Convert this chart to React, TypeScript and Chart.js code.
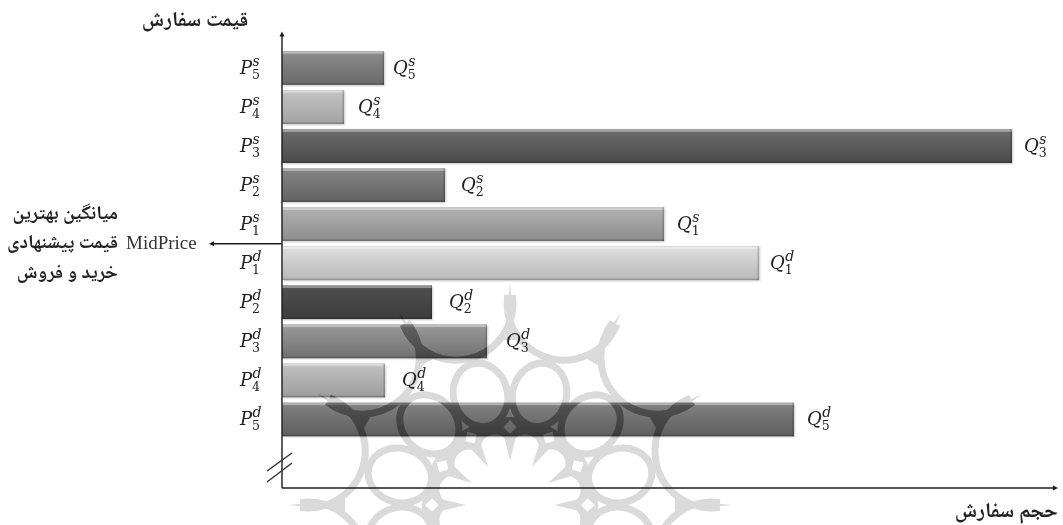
import React, { useEffect, useRef } from "react";
import { Chart, registerables } from "chart.js";

Chart.register(...registerables);

// Order volumes (top to bottom)
const sides = ["s", "s", "s", "s", "s", "d", "d", "d", "d", "d"];
const levels = [5, 4, 3, 2, 1, 1, 2, 3, 4, 5];
const categories = ["P5s", "P4s", "P3s", "P2s", "P1s", "P1d", "P2d", "P3d", "P4d", "P5d"];
const volumes = [102, 62, 730, 163, 382, 477, 150, 205, 103, 512];
const barTops = ["#8e8e8e", "#c4c4c4", "#6c6c6c", "#868686", "#b2b2b2", "#dfdfdf", "#505050", "#9a9a9a", "#c2c2c2", "#828282"];
const barBottoms = ["#686868", "#a2a2a2", "#4a4a4a", "#626262", "#8c8c8c", "#b8b8b8", "#3c3c3c", "#707070", "#9c9c9c", "#5e5e5e"];

const yAxisTitle = "قیمت سفارش";
const xAxisTitle = "حجم سفارش";
const midLines = ["میانگین بهترین", "قیمت پیشنهادی", "خرید و فروش"];
const midPrice = "MidPrice";

const PERSIAN = "'Noto Naskh Arabic','Noto Sans Arabic','DejaVu Sans','Noto Sans',sans-serif";
const LATIN = "'Liberation Serif',serif";
const MATH = "'DejaVu Serif','Liberation Serif',serif";
const INK = "#222";
const qGaps = [9, 14, 12, 16, 13, 11, 17, 19, 17, 13];

function symbol(ctx: CanvasRenderingContext2D, base: string, sup: string, sub: string, x: number, y: number) {
  ctx.fillStyle = INK;
  ctx.textAlign = "left";
  ctx.textBaseline = "alphabetic";
  ctx.font = `italic 18px ${MATH}`;
  ctx.fillText(base, x, y + 6);
  const w = ctx.measureText(base).width;
  ctx.font = `italic 14px ${MATH}`;
  ctx.fillText(sup, x + w + 0.5, y - 2);
  ctx.font = `12.5px ${MATH}`;
  ctx.fillText(sub, x + w, y + 11);
}

function arrow(ctx: CanvasRenderingContext2D, x0: number, y0: number, x1: number, y1: number) {
  ctx.strokeStyle = "#1c1c1c";
  ctx.fillStyle = "#1c1c1c";
  ctx.lineWidth = 1.4;
  ctx.beginPath();
  ctx.moveTo(x0, y0);
  ctx.lineTo(x1, y1);
  ctx.stroke();
  const a = Math.atan2(y1 - y0, x1 - x0);
  ctx.beginPath();
  ctx.moveTo(x1 + Math.cos(a) * 2, y1 + Math.sin(a) * 2);
  ctx.lineTo(x1 - Math.cos(a) * 3 - Math.sin(a) * 2.5, y1 - Math.sin(a) * 3 + Math.cos(a) * 2.5);
  ctx.lineTo(x1 - Math.cos(a) * 3 + Math.sin(a) * 2.5, y1 - Math.sin(a) * 3 - Math.cos(a) * 2.5);
  ctx.closePath();
  ctx.fill();
}

function watermarkLayer(w: number, h: number) {
  const cx = 510;
  const cy = 505;
  const layer = document.createElement("canvas");
  layer.width = w;
  layer.height = h;
  const c = layer.getContext("2d") as CanvasRenderingContext2D;
  const ink = "#dadada";
  const polar = (angle: number, r: number): [number, number] => [cx + Math.cos(angle) * r, cy + Math.sin(angle) * r];
  const rad = (deg: number) => ((deg - 90) * Math.PI) / 180;
  const cut = (paint: () => void) => {
    c.globalCompositeOperation = "destination-out";
    c.fillStyle = "#000";
    paint();
    c.globalCompositeOperation = "source-over";
  };

  // central disc
  c.fillStyle = ink;
  c.beginPath();
  c.arc(cx, cy, 88, 0, Math.PI * 2);
  c.fill();

  // white scalloped flower and small diamonds cut out of the disc
  cut(() => {
    c.beginPath();
    c.arc(cx, cy, 60, 0, Math.PI * 2);
    c.fill();
    for (let k = 0; k < 12; k++) {
      const [lx, ly] = polar(rad(k * 30 + 15), 58);
      c.beginPath();
      c.arc(lx, ly, 14.5, 0, Math.PI * 2);
      c.fill();
      const a = rad(k * 30);
      c.beginPath();
      const p1 = polar(a, 71);
      const p2 = polar(a + 0.085, 78);
      const p3 = polar(a, 85);
      const p4 = polar(a - 0.085, 78);
      c.moveTo(p1[0], p1[1]);
      c.lineTo(p2[0], p2[1]);
      c.lineTo(p3[0], p3[1]);
      c.lineTo(p4[0], p4[1]);
      c.closePath();
      c.fill();
    }
  });

  c.fillStyle = ink;
  c.strokeStyle = ink;
  for (let k = 0; k < 12; k++) {
    // grey cusp pointing at the centre between two petals
    const cusp = rad(k * 30);
    const q0 = polar(cusp, 44);
    const q1 = polar(cusp - 0.09, 72);
    const q2 = polar(cusp + 0.09, 72);
    c.beginPath();
    c.moveTo(q0[0], q0[1]);
    c.lineTo(q1[0], q1[1]);
    c.lineTo(q2[0], q2[1]);
    c.closePath();
    c.fill();

    const mid = rad(k * 30 + 15);
    const [rx, ry] = polar(mid, 114);

    // ring, white inside
    c.save();
    c.translate(rx, ry);
    c.rotate(mid);
    cut(() => {
      c.beginPath();
      c.ellipse(0, 0, 32, 27, 0, 0, Math.PI * 2);
      c.fill();
    });
    c.lineWidth = 7;
    c.beginPath();
    c.ellipse(0, 0, 32, 27, 0, 0, Math.PI * 2);
    c.stroke();
    c.restore();

    // concave arc running between two spikes
    const [ax, ay] = polar(mid, 209);
    c.lineWidth = 7;
    c.beginPath();
    c.arc(ax, ay, 57, mid + Math.PI - 1.45, mid + Math.PI + 1.45);
    c.stroke();

    // spike tip
    const tip = rad(k * 30);
    const t0 = polar(tip, 222);
    const t1 = polar(tip - 0.035, 165);
    const t2 = polar(tip + 0.035, 165);
    c.beginPath();
    c.moveTo(t0[0], t0[1]);
    c.lineTo(t1[0], t1[1]);
    c.lineTo(t2[0], t2[1]);
    c.closePath();
    c.fill();
  }
  return layer;
}

const decorations = {
  id: "decorations",
  beforeDatasetsDraw(chart: any) {
    const ctx = chart.ctx;
    ctx.save();
    chart.getDatasetMeta(0).data.forEach((bar: any) => {
      ctx.shadowColor = "rgba(0,0,0,0.22)";
      ctx.shadowBlur = 2;
      ctx.shadowOffsetY = 1;
      ctx.shadowOffsetX = 0.5;
      ctx.fillStyle = "#999";
      ctx.fillRect(bar.base, bar.y - bar.height / 2, bar.x - bar.base, bar.height);
    });
    ctx.restore();
  },
  afterDatasetsDraw(chart: any) {
    const ctx = chart.ctx;
    const { x, y } = chart.scales;
    const area = chart.chartArea;
    const x0 = x.getPixelForValue(0);
    const bars = chart.getDatasetMeta(0).data;
    ctx.save();
    // bevel
    bars.forEach((bar: any) => {
      const top = bar.y - bar.height / 2;
      const bot = bar.y + bar.height / 2;
      ctx.fillStyle = "rgba(255,255,255,0.38)";
      ctx.fillRect(x0, top, bar.x - x0, 2.5);
      ctx.fillStyle = "rgba(0,0,0,0.2)";
      ctx.fillRect(x0, bot - 1.5, bar.x - x0, 1.5);
      ctx.fillRect(bar.x - 1.5, top, 1.5, bar.height);
    });

    // faint emblem lying over everything, stronger where it crosses a bar
    const layer = watermarkLayer(chart.width, chart.height);
    ctx.save();
    ctx.globalCompositeOperation = "multiply";
    ctx.drawImage(layer, 0, 0);
    ctx.beginPath();
    bars.forEach((bar: any) => ctx.rect(x0, bar.y - bar.height / 2, bar.x - x0, bar.height));
    ctx.clip();
    ctx.drawImage(layer, 0, 0);
    ctx.drawImage(layer, 0, 0);
    ctx.restore();

    // axes
    arrow(ctx, x0, area.bottom + 49, x0, area.top - 15);
    arrow(ctx, x0, area.bottom + 49, area.right, area.bottom + 49);
    const midY = (y.getPixelForValue(4) + y.getPixelForValue(5)) / 2;
    arrow(ctx, x0, midY, x0 - 71, midY);

    // axis break
    ctx.strokeStyle = "#333";
    ctx.lineWidth = 1.5;
    [[471, 453], [482, 463]].forEach(([a, b]) => {
      ctx.beginPath();
      ctx.moveTo(x0 - 15, a);
      ctx.lineTo(x0 + 10, b);
      ctx.stroke();
    });

    // price and volume symbols
    categories.forEach((_, i) => {
      const py = y.getPixelForValue(i);
      symbol(ctx, "P", sides[i], String(levels[i]), x0 - 42, py);
      symbol(ctx, "Q", sides[i], String(levels[i]), x.getPixelForValue(volumes[i]) + qGaps[i], py);
    });

    // Persian captions
    ctx.fillStyle = INK;
    ctx.textBaseline = "middle";
    ctx.direction = "rtl";
    ctx.textAlign = "center";
    ctx.font = `bold 21px ${PERSIAN}`;
    ctx.fillText(yAxisTitle, 195, 23);
    ctx.textAlign = "right";
    ctx.font = `bold 21px ${PERSIAN}`;
    ctx.fillText(xAxisTitle, 1058, 514);
    ctx.font = `bold 19.5px ${PERSIAN}`;
    ctx.textAlign = "right";
    midLines.forEach((line, i) => ctx.fillText(line, 118, midY + (i - 1) * 29.5 + 2));
    ctx.direction = "ltr";
    ctx.textAlign = "left";
    ctx.font = `19px ${LATIN}`;
    ctx.fillStyle = "#333";
    ctx.fillText(midPrice, 126, midY);
    ctx.restore();
  },
};

export default function App() {
  const ref = useRef<HTMLCanvasElement>(null);
  useEffect(() => {
    document.body.style.margin = "0";
    document.body.style.background = "#fff";
    const gradient = (c: any) => {
      const i = c.dataIndex;
      const s = c.chart.scales.y;
      if (!s || !c.chart.chartArea) return barTops[i];
      const mid = s.getPixelForValue(i);
      const g = c.chart.ctx.createLinearGradient(0, mid - 17, 0, mid + 17);
      g.addColorStop(0, barTops[i]);
      g.addColorStop(1, barBottoms[i]);
      return g;
    };
    const chart = new Chart(ref.current as HTMLCanvasElement, {
      type: "bar",
      data: {
        labels: categories,
        datasets: [
          {
            data: volumes,
            backgroundColor: gradient,
            barPercentage: 0.86,
            categoryPercentage: 1,
          },
        ],
      },
      options: {
        indexAxis: "y",
        responsive: false,
        animation: false,
        layout: { padding: { left: 282, right: 7, top: 48.5, bottom: 86 } },
        plugins: { legend: { display: false }, tooltip: { enabled: false } },
        scales: {
          x: { display: false, min: 0, max: 774 },
          y: { display: false },
        },
      },
      plugins: [decorations],
    } as any);
    return () => chart.destroy();
  }, []);
  return (
    <canvas
      ref={ref}
      width={1063}
      height={525}
      style={{ display: "block", width: 1063, height: 525, filter: "blur(0.4px)" }}
    />
  );
}
